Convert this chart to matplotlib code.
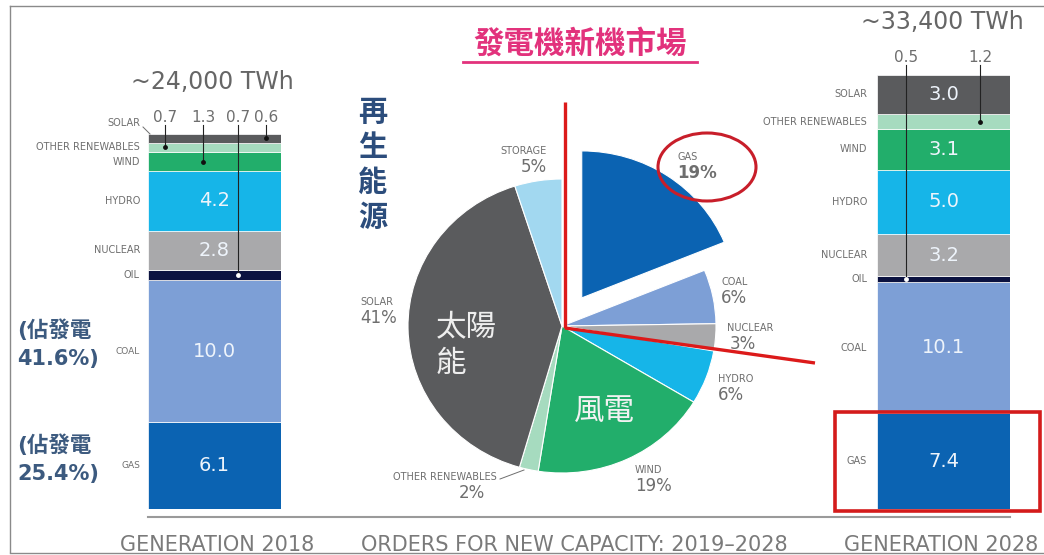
import matplotlib
matplotlib.use('Agg')
import matplotlib.pyplot as plt
import numpy as np
from matplotlib.patches import Ellipse, Rectangle

plt.rcParams['font.family'] = ['DejaVu Sans', 'Noto Sans CJK TC']

W, H = 1044, 555

# ---------------- data ----------------
sources = ['GAS', 'COAL', 'OIL', 'NUCLEAR', 'HYDRO', 'WIND', 'OTHER RENEWABLES', 'SOLAR']
gen2018 = [6.1, 10.0, 0.7, 2.8, 4.2, 1.3, 0.7, 0.6]
gen2028 = [7.4, 10.1, 0.5, 3.2, 5.0, 3.1, 1.2, 3.0]
total_2018_label = '~24,000 TWh'
total_2028_label = '~33,400 TWh'

pie_labels = ['GAS', 'COAL', 'NUCLEAR', 'HYDRO', 'WIND', 'OTHER RENEWABLES', 'SOLAR', 'STORAGE']
pie_values = [19, 6, 3, 6, 19, 2, 41, 5]

title = '發電機新機市場'
renew_label = ['再', '生', '能', '源']
share_coal = ['(佔發電', '41.6%)']
share_gas = ['(佔發電', '25.4%)']
bottom_labels = ['GENERATION 2018', 'ORDERS FOR NEW CAPACITY: 2019–2028', 'GENERATION 2028']

colors = {
    'GAS': '#0b63b2', 'COAL': '#7d9fd6', 'OIL': '#0b1240', 'NUCLEAR': '#a9a9ab',
    'HYDRO': '#16b5e8', 'WIND': '#22ae6b', 'OTHER RENEWABLES': '#a6dbbf',
    'SOLAR': '#5a5b5d', 'STORAGE': '#a2d8f0',
}
GRAY = '#6e6e6e'
RED = '#dc1a1a'

fig = plt.figure(figsize=(W / 100, H / 100), dpi=100)


def px_axes(l, t, r, b, z=1):
    return fig.add_axes([l / W, 1 - b / H, (r - l) / W, (b - t) / H], zorder=z)


ov = fig.add_axes([0, 0, 1, 1], zorder=10)
ov.set_xlim(0, W)
ov.set_ylim(H, 0)
ov.axis('off')
ov.patch.set_alpha(0)


def to_ov(ax, x, y):
    d = ax.transData.transform((x, y))
    return ov.transData.inverted().transform(d)


def draw_bar(box, vals, label_x, callouts, callout_y, overrides, small=()):
    ax = px_axes(*box, z=2)
    cum = np.concatenate([[0], np.cumsum(vals)[:-1]])
    ax.bar(0, vals, bottom=cum, width=1.0, color=[colors[s] for s in sources],
           edgecolor='white', linewidth=0.5)
    ax.set_xlim(-0.5, 0.5)
    ax.set_ylim(0, sum(vals))
    ax.axis('off')
    mids = {}
    for s, v, c in zip(sources, vals, cum):
        m = c + v / 2
        _, ypx = to_ov(ax, 0, m)
        mids[s] = ypx
        y_lab = overrides.get(s, ypx)
        ov.text(label_x, y_lab, s, ha='right', va='center', fontsize=6.5 if s in small else 7,
                color=GRAY)
        if v >= 2:
            ax.text(0, m, f'{v:.1f}', ha='center', va='center', fontsize=14, color='#eef4fb')
    for s, x in callouts:
        v = vals[sources.index(s)]
        ov.text(x, callout_y, f'{v:.1f}', ha='center', va='center', fontsize=11, color=GRAY)
        ov.plot([x, x], [callout_y + 8, mids[s]], color='#222222', lw=0.8)
        ov.plot([x], [mids[s]], 'o', ms=3.5, color='white' if s == 'OIL' else '#111111',
                mec='none')
    return ax, mids


axL, midsL = draw_bar((148, 134, 281, 509), gen2018, 140,
                      [('OTHER RENEWABLES', 165), ('WIND', 203), ('OIL', 238), ('SOLAR', 266)],
                      117, {'SOLAR': 123}, small=('COAL', 'GAS'))
ov.plot([143, 150], [127, 134], color=GRAY, lw=0.7)
axR, midsR = draw_bar((877, 75, 1010, 509), gen2028, 867,
                      [('OIL', 906), ('OTHER RENEWABLES', 980)], 57, {})

ov.text(212, 82, total_2018_label, ha='center', va='center', fontsize=17, color='#666666')
ov.text(942, 22, total_2028_label, ha='center', va='center', fontsize=17, color='#666666')

# ---------------- pie ----------------
axP = px_axes(369.5, 142.25, 754.5, 509.75, z=2)
explode = [0.23 if l == 'GAS' else 0 for l in pie_labels]
axP.pie(pie_values, colors=[colors[l] for l in pie_labels], startangle=90, counterclock=False,
        explode=explode, wedgeprops=dict(edgecolor='white', linewidth=0.8))
axP.set_aspect('auto')
axP.set_xlim(-1.25, 1.25)
axP.set_ylim(-1.25, 1.25)
axP.axis('off')

pct = dict(zip(pie_labels, pie_values))
pie_text_pos = {
    'STORAGE': (547, 151, 'right'), 'GAS': (677, 157, 'left'), 'COAL': (721, 282, 'left'),
    'NUCLEAR': (727, 328, 'left'), 'HYDRO': (718, 379, 'left'), 'WIND': (635, 470, 'left'),
    'OTHER RENEWABLES': (497, 477, 'right'), 'SOLAR': (360, 302, 'left'),
}
for l, (x, y, ha) in pie_text_pos.items():
    ov.text(x, y, l, ha=ha, va='center', fontsize=7, color=GRAY)
    xp = x
    if l == 'OTHER RENEWABLES':
        xp = x - 12
    elif l == 'NUCLEAR':
        xp = x + 3
    ov.text(xp, y + 16, f'{pct[l]}%', ha=ha, va='center', fontsize=12, color=GRAY,
            weight='bold' if l == 'GAS' else 'normal')
ov.plot([500, 524], [479, 470], color=GRAY, lw=0.7)

ov.text(436, 327, '太陽', ha='left', va='center', fontsize=22, color='#eeeeee',
        family=['Noto Sans CJK TC'])
ov.text(436, 363, '能', ha='left', va='center', fontsize=22, color='#eeeeee',
        family=['Noto Sans CJK TC'])
ov.text(604, 411, '風電', ha='center', va='center', fontsize=22, color='#f2f2f2',
        family=['Noto Sans CJK TC'])

for i, ch in enumerate(renew_label):
    ov.text(373, 112 + 35 * i, ch, ha='center', va='center', fontsize=21, weight='bold',
            color='#2c4d7c', family=['Noto Sans CJK TC'])

# title
ov.text(580, 44, title, ha='center', va='center', fontsize=22, weight='bold',
        color='#e2327c', family=['Noto Sans CJK TC'])
ov.plot([463, 697], [62, 62], color='#e2327c', lw=2)

# red highlights
ov.plot([565, 565], [102, 328], color=RED, lw=2.4, solid_capstyle='butt')
ov.plot([565, 815], [328, 363], color=RED, lw=2.4, solid_capstyle='butt')
ov.add_patch(Ellipse((707, 167), 98, 68, fill=False, lw=2.2, ec='#c81e2a'))
ov.add_patch(Rectangle((835, 412), 205, 99, fill=False, lw=2.6, ec='#d41b1b'))

# share annotations
for lines, y0 in ((share_coal, 330), (share_gas, 445)):
    for j, t in enumerate(lines):
        ov.text(17, y0 + 29 * j, t, ha='left', va='center', fontsize=15.5 if j == 0 else 15,
                weight='bold', color='#3c5a7f', family=['DejaVu Sans', 'Noto Sans CJK TC'])

# baseline and bottom labels
ov.plot([148, 1010], [517, 517], color='#9a9a9a', lw=1.5)
for t, x in zip(bottom_labels, (217, 574, 941)):
    ov.text(x, 545, t, ha='center', va='center', fontsize=15, color='#7a7a7a')

# frame
ov.plot([10, 10], [6, 552], color='#8a8a8a', lw=1)
ov.plot([10, 1044], [6, 6], color='#8a8a8a', lw=1)
ov.plot([10, 1044], [553, 553], color='#8a8a8a', lw=1)

fig.savefig('out.png', dpi=100)
